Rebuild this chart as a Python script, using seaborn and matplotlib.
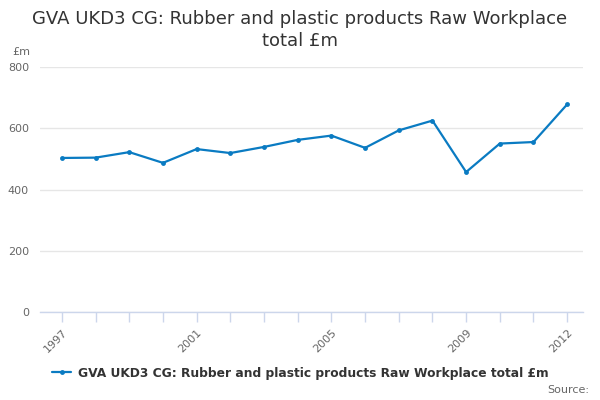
import matplotlib
matplotlib.use("Agg")
import matplotlib.pyplot as plt
import seaborn as sns
import pandas as pd
from matplotlib.lines import Line2D

years = list(range(1997, 2013))
values = [503, 504, 522, 487, 532, 519, 539, 562, 576, 536, 593, 625, 457, 550, 555, 678]
labeled_years = [1997, 2001, 2005, 2009, 2012]
y_ticks = [0, 200, 400, 600, 800]
series_name = "GVA UKD3 CG: Rubber and plastic products Raw Workplace total £m"
title = "GVA UKD3 CG: Rubber and plastic products Raw Workplace\ntotal £m"

sns.set_style("white")
plt.rcParams['font.family'] = ['DejaVu Sans']

df = pd.DataFrame({"year": years, "value": values})

fig = plt.figure(figsize=(6, 4), dpi=100)
ax = fig.add_axes([40/600, 1-312/400, (583-40)/600, (312-67)/400])

color = "#0a7bc2"
sns.lineplot(data=df, x="year", y="value", ax=ax, color=color, linewidth=1.6,
             marker="o", markersize=3.5, markeredgewidth=0, legend=False)

ax.set_xlim(1996.35, 2012.47)
ax.set_ylim(0, 800)
ax.set_yticks(y_ticks)
ax.set_yticklabels([str(v) for v in y_ticks], color="#666666", fontsize=8)
ax.set_xticks(years)
ax.set_xticklabels([str(y) if y in labeled_years else "" for y in years],
                   rotation=45, ha="right", rotation_mode="anchor", color="#666666", fontsize=8)
ax.tick_params(axis="x", bottom=True, direction="out", length=7, color="#ccd6eb", width=1, pad=4)
ax.tick_params(axis="y", left=False, length=0, pad=8)
ax.set_xlabel("")
ax.set_ylabel("")
ax.grid(axis="y", color="#e6e6e6", linewidth=1)
ax.grid(axis="x", visible=False)
for s in ["top", "right", "left"]:
    ax.spines[s].set_visible(False)
ax.spines["bottom"].set_color("#ccd6eb")
ax.spines["bottom"].set_linewidth(1)
ax.set_axisbelow(True)

fig.text(0.5, 1-10/400, title, ha="center", va="top", fontsize=13, color="#333333",
         linespacing=1.25)
fig.text(12/600, 1-52/400, "£m", ha="left", va="center", fontsize=8, color="#666666")

h = Line2D([0], [0], color=color, linewidth=1.6, marker="o", markersize=3.5, markeredgewidth=0)
fig.legend([h], [series_name], loc="center", bbox_to_anchor=(0.5, 1-373/400), frameon=False,
           prop={"weight": "bold", "size": 8.8}, labelcolor="#333333", handlelength=1.6, handletextpad=0.5)
fig.text(589/600, 1-390/400, "Source:", ha="right", va="center", fontsize=8, color="#666666")

fig.savefig("out.png", dpi=100)
